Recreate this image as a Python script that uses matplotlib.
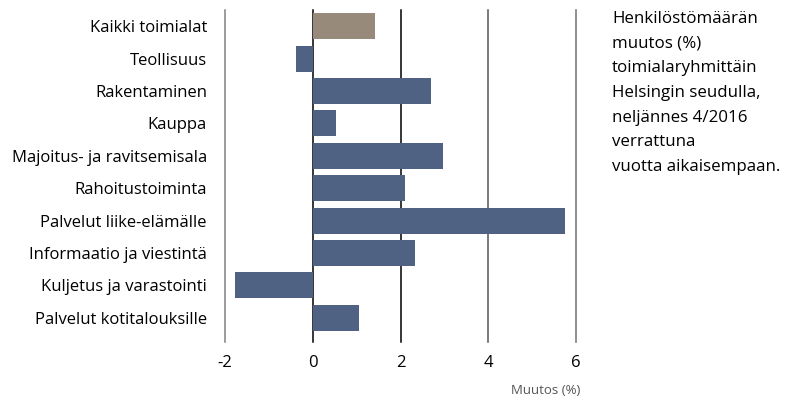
import numpy as np
import matplotlib
matplotlib.use('Agg')
import matplotlib.pyplot as plt

plt.rcParams['font.family'] = ['Open Sans', 'DejaVu Sans']

categories = ['Kaikki toimialat', 'Teollisuus', 'Rakentaminen', 'Kauppa',
              'Majoitus- ja ravitsemisala', 'Rahoitustoiminta',
              'Palvelut liike-elämälle', 'Informaatio ja viestintä',
              'Kuljetus ja varastointi', 'Palvelut kotitalouksille']
values = [1.42, -0.38, 2.69, 0.53, 2.97, 2.10, 5.75, 2.33, -1.77, 1.05]
xticks = [-2, 0, 2, 4, 6]
note = ('Henkilöstömäärän\nmuutos (%)\ntoimialaryhmittäin\nHelsingin seudulla,\n'
        'neljännes 4/2016\nverrattuna\nvuotta aikaisempaan.')

blue = '#4f6283'
tan = '#978a7b'
colors = [tan] + [blue] * (len(values) - 1)
line_cols = {-2: '#808080', 0: '#000000', 2: '#000000', 4: '#555555', 6: '#707070'}

fig = plt.figure(figsize=(7.92, 4.0), dpi=100)
# axes spans the bar area, gridlines run a bit below it
ax = fig.add_axes([225/792, 66/400, 351/792, 324/400])

y = np.arange(len(categories))
for xv in xticks:
    ax.plot([xv, xv], [-0.5, 9.75], color=line_cols[xv], lw=1.1,
            zorder=1, clip_on=False)
ax.barh(y, values, height=0.8, color=colors, zorder=2)

ax.set_xlim(-2, 6)
ax.set_ylim(len(categories) - 0.5, -0.5)
ax.set_xticks(xticks)
ax.set_xticklabels(['-2', '0', '2', '4', '6'], fontsize=12)
ax.set_yticks(y)
ax.set_yticklabels(categories, fontsize=12)
ax.tick_params(length=0)
ax.tick_params(axis='x', pad=15)
ax.tick_params(axis='y', pad=13)
for s in ax.spines.values():
    s.set_visible(False)

fig.text(580/792, 1 - 390/400, 'Muutos (%)', fontsize=9.5, color='#555555',
         ha='right', va='center')
fig.text(612/792, 1 - 11/400, note, fontsize=12.2, ha='left', va='top',
         linespacing=1.72)

fig.savefig('out.png', dpi=100)
